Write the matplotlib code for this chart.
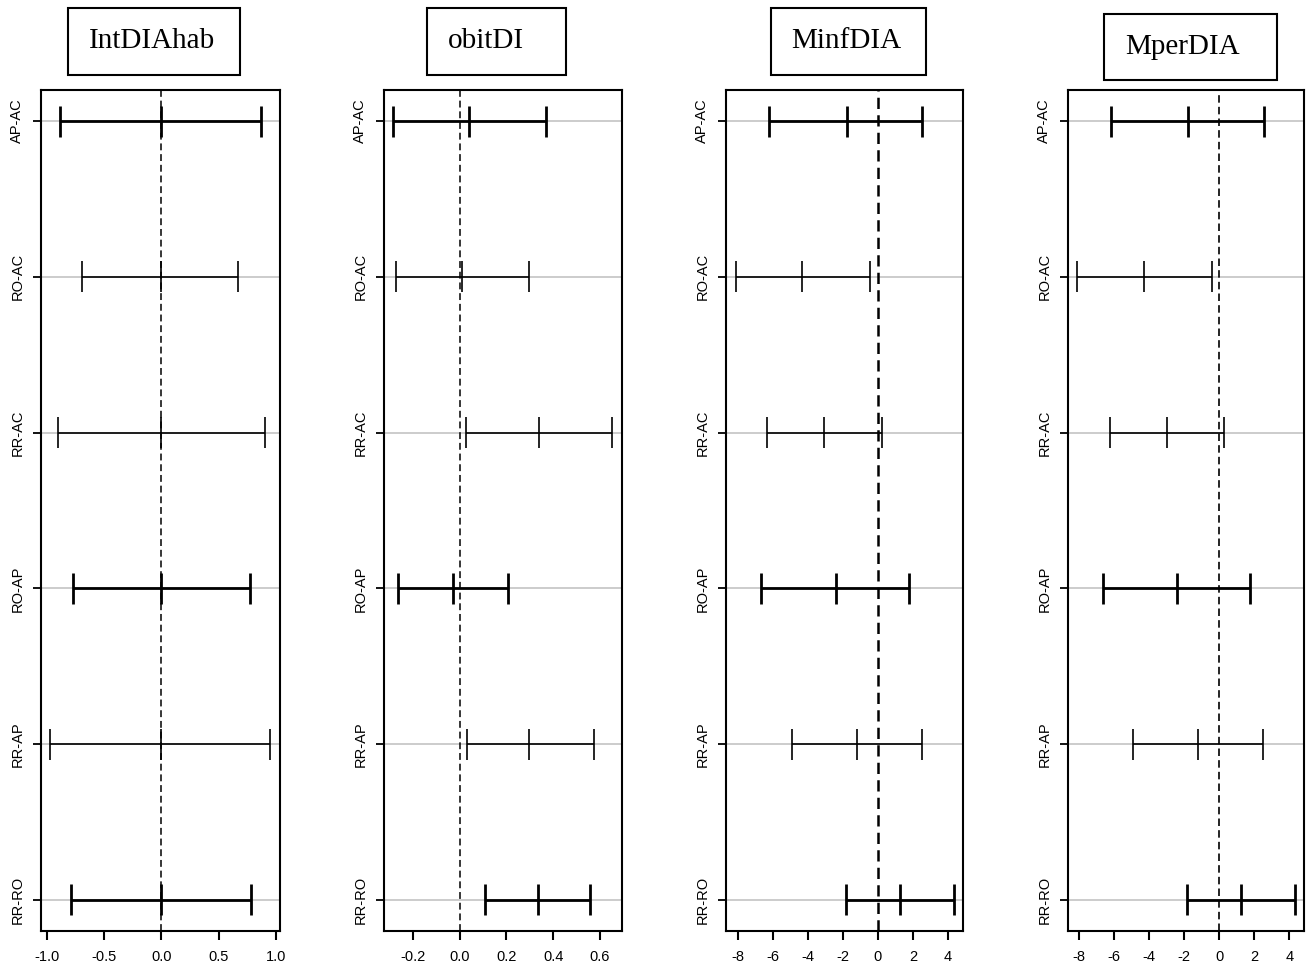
import numpy as np
import matplotlib
matplotlib.use("Agg")
import matplotlib.pyplot as plt
from matplotlib.patches import Rectangle

plt.rcParams['axes.unicode_minus'] = False
plt.rcParams['font.family'] = ['Liberation Sans', 'DejaVu Sans']

comparisons = ["AP-AC", "RO-AC", "RR-AC", "RO-AP", "RR-AP", "RR-RO"]

# IntDIAhab
int_lwr = [-0.88, -0.69, -0.90, -0.77, -0.97, -0.79]
int_diff = [0.0, 0.0, 0.0, 0.0, 0.0, 0.0]
int_upr = [0.87, 0.67, 0.90, 0.77, 0.95, 0.78]

# obitDI
obit_lwr = [-0.284, -0.272, 0.026, -0.262, 0.031, 0.110]
obit_diff = [0.041, 0.012, 0.340, -0.028, 0.297, 0.334]
obit_upr = [0.370, 0.295, 0.654, 0.208, 0.575, 0.557]

# MinfDIA
minf_lwr = [-6.25, -8.11, -6.31, -6.68, -4.90, -1.84]
minf_diff = [-1.78, -4.31, -3.06, -2.41, -1.20, 1.24]
minf_upr = [2.52, -0.46, 0.21, 1.75, 2.50, 4.35]

# MperDIA
mper_lwr = [-6.16, -8.06, -6.22, -6.60, -4.90, -1.80]
mper_diff = [-1.77, -4.26, -2.99, -2.37, -1.22, 1.26]
mper_upr = [2.54, -0.41, 0.27, 1.78, 2.52, 4.35]

titles = ["IntDIAhab", "obitDI", "MinfDIA", "MperDIA"]
xticks_list = [[-1.0, -0.5, 0.0, 0.5, 1.0],
               [-0.2, 0.0, 0.2, 0.4, 0.6],
               [-8, -6, -4, -2, 0, 2, 4],
               [-8, -6, -4, -2, 0, 2, 4]]
xticklabels_list = [["-1.0", "-0.5", "0.0", "0.5", "1.0"],
                    ["-0.2", "0.0", "0.2", "0.4", "0.6"],
                    ["-8", "-6", "-4", "-2", "0", "2", "4"],
                    ["-8", "-6", "-4", "-2", "0", "2", "4"]]

panels = [(int_lwr, int_diff, int_upr),
          (obit_lwr, obit_diff, obit_upr),
          (minf_lwr, minf_diff, minf_upr),
          (mper_lwr, mper_diff, mper_upr)]

# layout in pixels
W, H = 1306, 971
ax_left = [41, 384, 726, 1068]
ax_right = [280, 622, 963, 1304]
ax_top, ax_bottom = 90, 931
xlims = [(-1.05, 1.035), (-0.324, 0.695), (-8.68, 4.86), (-8.6, 4.84)]
zero_lw = [1.1, 1.1, 1.8, 1.2]
row_lw = [2.0, 1.2, 1.2, 2.0, 1.2, 2.0]

box_x = [(68, 240), (427, 566), (771, 926), (1104, 1277)]
box_y = [(8, 75), (8, 75), (8, 75), (14, 80)]
title_x = [152, 486, 846, 1183]

fig = plt.figure(figsize=(W / 100, H / 100), dpi=100)

ypos = np.arange(len(comparisons), 0, -1)

for i, (lwr, diff, upr) in enumerate(panels):
    ax = fig.add_axes([ax_left[i] / W, (H - ax_bottom) / H,
                       (ax_right[i] - ax_left[i]) / W, (ax_bottom - ax_top) / H])
    for y in ypos:
        ax.axhline(y, color='#c8c8c8', lw=1.3, zorder=1)
    ax.axvline(0, color='black', lw=zero_lw[i], dashes=(4.5, 2.5), zorder=2)
    for j, y in enumerate(ypos):
        lw = row_lw[j]
        ax.plot([lwr[j], upr[j]], [y, y], color='black', lw=lw, zorder=3,
                solid_capstyle='butt')
        for xv in (lwr[j], diff[j], upr[j]):
            ax.plot([xv, xv], [y - 0.1, y + 0.1], color='black', lw=lw,
                    zorder=3, solid_capstyle='butt')
    ax.set_xlim(*xlims[i])
    ax.set_ylim(0.8, 6.2)
    ax.set_yticks(ypos)
    ax.set_yticklabels(comparisons, rotation=90, va='center', fontsize=10.5)
    ax.set_xticks(xticks_list[i])
    ax.set_xticklabels(xticklabels_list[i], fontsize=10.5)
    ax.tick_params(axis='y', length=6, width=1.3, pad=6)
    ax.tick_params(axis='x', length=6.5, width=1.5, pad=7)
    for s in ax.spines.values():
        s.set_linewidth(1.5)

    x0, x1 = box_x[i]
    y0, y1 = box_y[i]
    fig.patches.append(Rectangle((x0 / W, 1 - y1 / H), (x1 - x0) / W, (y1 - y0) / H,
                                 transform=fig.transFigure, fill=False,
                                 edgecolor='black', lw=1.5))
    fig.text(title_x[i] / W, 1 - (y0 + y1) / 2 / H, titles[i],
             ha='center', va='center', fontsize=21, family='Liberation Serif')

fig.savefig("out.png", dpi=100)
